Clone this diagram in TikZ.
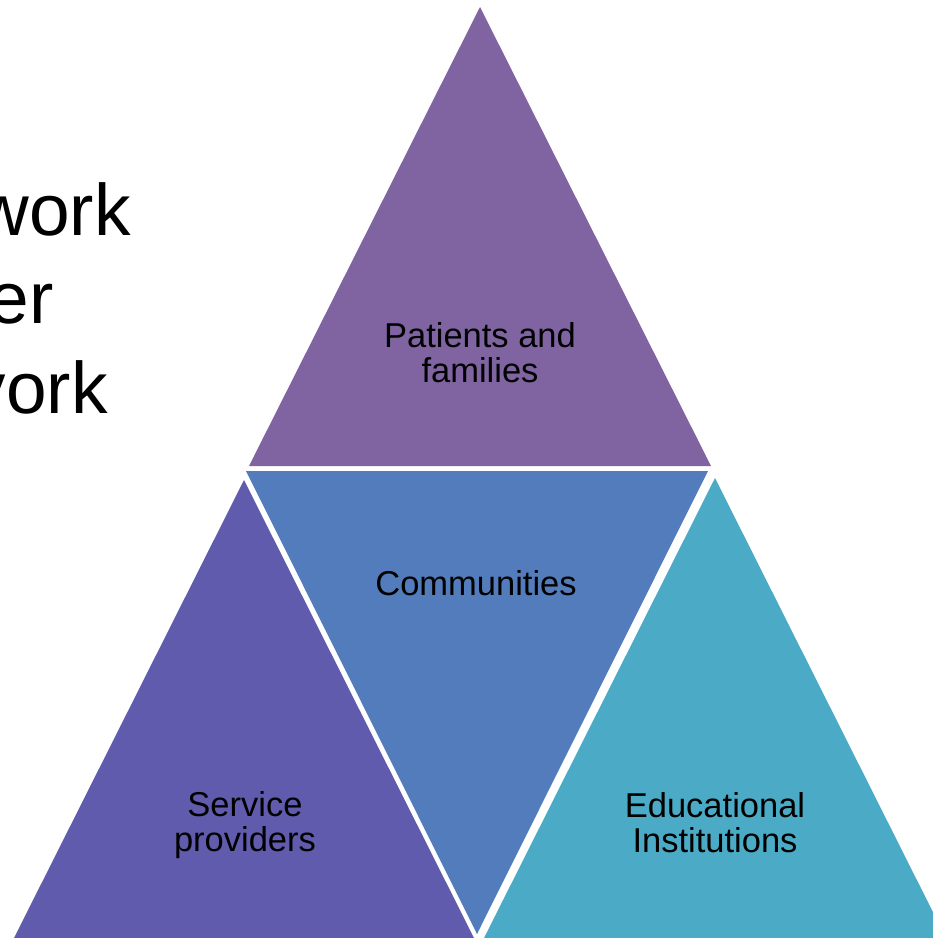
\documentclass[tikz,border=0pt]{standalone}
\usepackage{fontspec}
\setmainfont{Liberation Sans}
\usepackage{xcolor}
\definecolor{tripatients}{HTML}{8064A2}
\definecolor{tricommunity}{HTML}{527CBB}
\definecolor{triservice}{HTML}{605BAC}
\definecolor{trieducation}{HTML}{4BABC6}
\usetikzlibrary{positioning}

\begin{document}
\begin{tikzpicture}[
    x=1pt, y=-1pt,
    tri/.style={draw=none},
    lbl/.style={font=\fontsize{34.5}{35}\selectfont, align=center, inner sep=0pt, text=black},
    side/.style={font=\fontsize{73}{89}\selectfont, anchor=base east, inner sep=0pt, text=black}
]
\useasboundingbox (0,0) rectangle (933,938);

% Top: Patients and families
\fill[tri, tripatients] (480,7) -- (711,466) -- (249,466) -- cycle;
\node[lbl] (patients) at (480,352.5) {Patients and\\families};

% Middle: Communities (inverted)
\fill[tri, tricommunity] (246,471) -- (708,471) -- (477,934) -- cycle;
\node[lbl, anchor=base] (community) at (476,595) {Communities};

% Left: Service providers
\fill[tri, triservice] (244,480) -- (474,938) -- (14,938) -- cycle;
\node[lbl] (service) at (245,825.5) {Service\\providers};

% Right: Educational Institutions
\fill[tri, trieducation] (715,478) -- (946,938) -- (484,938) -- cycle;
\node[lbl] (education) at (715,822.3) {Educational\\Institutions};

% Text cut off on the left
\node[side] (lineone) at (131,235) {work};
\node[side] (linetwo) at (54,323) {er};
\node[side] (linethree) at (108,413) {vork};

\end{tikzpicture}
\end{document}
